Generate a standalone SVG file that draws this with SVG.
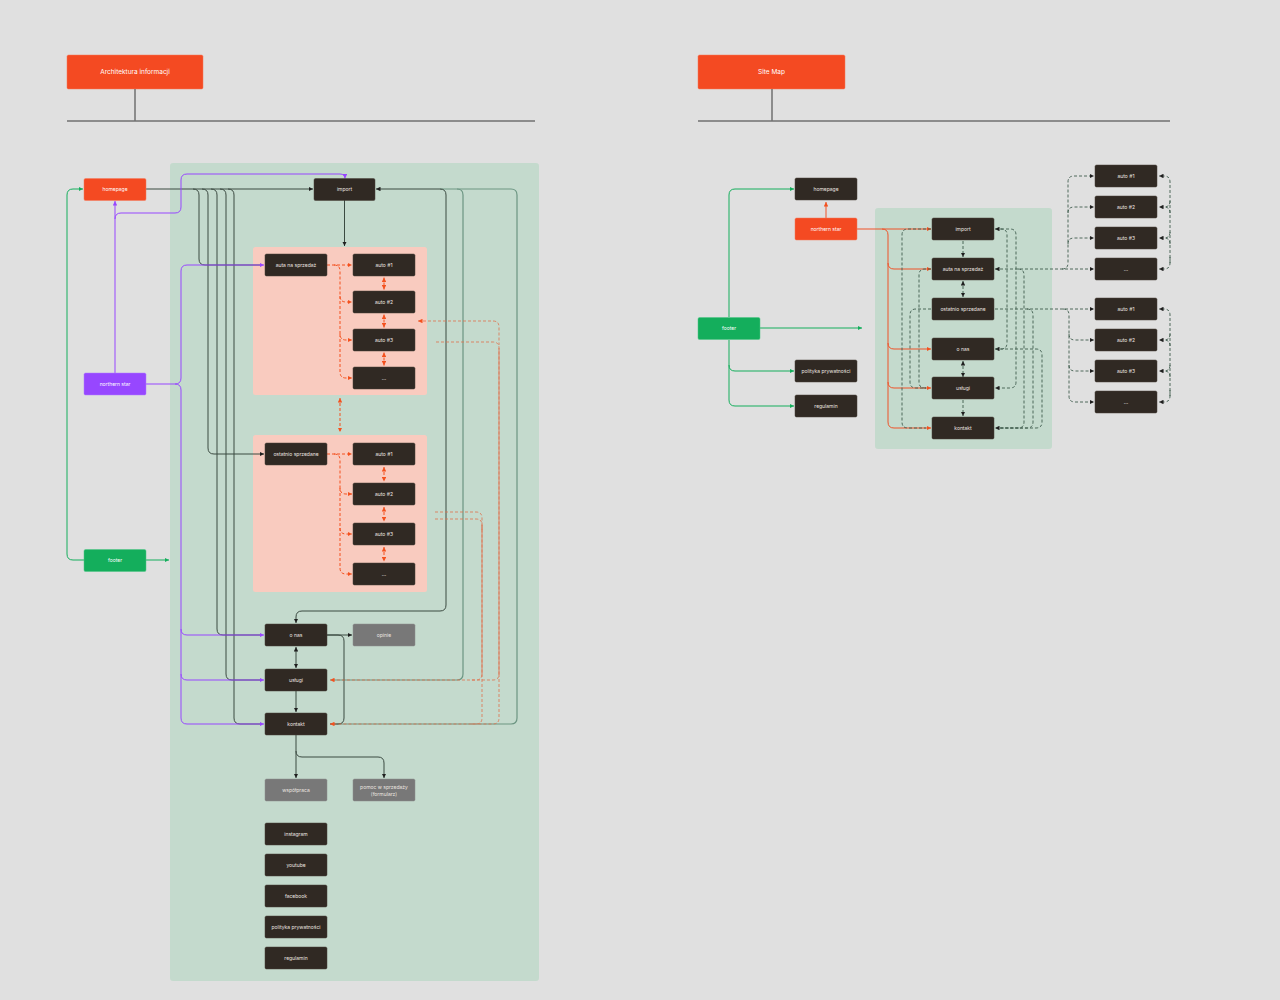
<svg xmlns="http://www.w3.org/2000/svg" width="1280" height="1000" viewBox="0 0 1280 1000">
<defs>
<style>
text{font-family:Inter,'Liberation Sans',sans-serif;font-size:5px;fill:#ece6e0;text-anchor:middle}
.hd text{font-size:6.5px;fill:#fff}
.n rect{fill:#302923;stroke:#4a423a;stroke-width:0.5}
.g rect{fill:#787878;stroke:#8c8c8c;stroke-width:0.5}
.o rect{fill:#f44a22;stroke:#f7795a;stroke-width:0.5}
.p rect{fill:#9747ff;stroke:#b07cff;stroke-width:0.5}
.gr rect{fill:#14ae5c;stroke:#4cc584;stroke-width:0.5}
.o text,.p text,.gr text{fill:#fff}
#connectors path,#header-lines path{fill:none}
.dk{stroke:#3b4a41;stroke-width:1}
.dg{stroke:#6c9582;stroke-width:1.2}
.pu{stroke:#9747ff;stroke-width:1}
.gn{stroke:#14ae5c;stroke-width:1}
.od{stroke:#f4511e;stroke-width:1;stroke-dasharray:3 2}
.ol{stroke:#e0704c;stroke-opacity:0.8;stroke-width:1;stroke-dasharray:3 2}
.ols{stroke:#e0704c;stroke-width:0.8}
.or{stroke:#ef5328;stroke-width:1}
.dd{stroke:#3e5b4d;stroke-width:0.9;stroke-dasharray:3 2}
.hl{stroke:#707070;stroke-width:1.5}
</style>
<marker id="ak" viewBox="0 0 5 5" refX="5" refY="2.5" markerWidth="4.5" markerHeight="4.5" markerUnits="userSpaceOnUse" orient="auto-start-reverse"><path d="M0,0L5,2.5L0,5z" style="fill:#1f1f1f;stroke:none"/></marker>
<marker id="ap" viewBox="0 0 5 5" refX="5" refY="2.5" markerWidth="4.5" markerHeight="4.5" markerUnits="userSpaceOnUse" orient="auto-start-reverse"><path d="M0,0L5,2.5L0,5z" style="fill:#9747ff;stroke:none"/></marker>
<marker id="ag" viewBox="0 0 5 5" refX="5" refY="2.5" markerWidth="4.5" markerHeight="4.5" markerUnits="userSpaceOnUse" orient="auto-start-reverse"><path d="M0,0L5,2.5L0,5z" style="fill:#14ae5c;stroke:none"/></marker>
<marker id="ao" viewBox="0 0 5 5" refX="5" refY="2.5" markerWidth="4.5" markerHeight="4.5" markerUnits="userSpaceOnUse" orient="auto-start-reverse"><path d="M0,0L5,2.5L0,5z" style="fill:#f4511e;stroke:none"/></marker>
</defs>
<rect x="0" y="0" width="1280" height="1000" fill="#e0e0e0"/>

<!-- headers -->
<g id="hdr-left" class="hd o">
<rect x="67" y="55" width="136" height="34" rx="1.5"/>
<text x="135" y="74.3">Architektura informacji</text>
</g>
<g id="hdr-right" class="hd o">
<rect x="698" y="55" width="147" height="34" rx="1.5"/>
<text x="771.5" y="74.3">Site Map</text>
</g>
<g id="header-lines">
<path class="hl" d="M135,89V121M67,121H535"/>
<path class="hl" d="M772,89V121M698,121H1170"/>
</g>

<!-- panels -->
<rect id="l-panel" x="170" y="163" width="369" height="818" rx="3" fill="#c4dacd"/>
<rect id="l-pink1" x="253" y="247" width="174" height="148" rx="2.5" fill="#f9cbbf"/>
<rect id="l-pink2" x="253" y="435" width="174" height="157" rx="2.5" fill="#f9cbbf"/>
<rect id="r-panel" x="875" y="208" width="177" height="241" rx="3" fill="#c4dacd"/>

<!-- connectors -->
<g id="connectors">
<!-- left: dark -->
<path class="dk" d="M146,189H313" marker-end="url(#ak)"/>
<path class="dk" d="M193,189Q199,189 199,195V259Q199,265 205,265H262"/>
<path class="dk" d="M202,189Q208,189 208,195V448Q208,454 214,454H264" marker-end="url(#ak)"/>
<path class="dk" d="M211,189Q217,189 217,195V629Q217,635 223,635H262"/>
<path class="dk" d="M220,189Q226,189 226,195V674Q226,680 232,680H262"/>
<path class="dk" d="M228,189Q234,189 234,195V718Q234,724 240,724H262"/>
<path class="dk" d="M344.5,200V246" marker-end="url(#ak)"/>
<path class="dg" d="M440,189H457Q463,189 463,195V674Q463,680 457,680H330"/>
<path class="dg" d="M457,189H511Q517,189 517,195V718Q517,724 511,724H330"/>
<path class="dk" d="M376,189H440Q446,189 446,195V605Q446,611 440,611H302Q296,611 296,617V623" marker-start="url(#ak)" marker-end="url(#ak)"/>
<path class="dk" d="M327,635H352" marker-end="url(#ak)"/>
<path class="dk" d="M327,635H338Q344,635 344,641V718Q344,724 338,724H330"/>
<path class="dk" d="M296,647V668" marker-start="url(#ak)" marker-end="url(#ak)"/>
<path class="dk" d="M296,691V712" marker-end="url(#ak)"/>
<path class="dk" d="M296,735V778" marker-end="url(#ak)"/>
<path class="dk" d="M296,751Q296,757 302,757H378Q384,757 384,763V778" marker-end="url(#ak)"/>
<!-- left: purple -->
<path class="pu" d="M115,373V201" marker-end="url(#ap)"/>
<path class="pu" d="M115,219Q115,213 121,213H175Q181,213 181,207V180Q181,174 187,174H340Q345,174 345,178.5" marker-end="url(#ap)"/>
<path class="pu" d="M146,384H175Q181,384 181,378V271Q181,265 187,265H264" marker-end="url(#ap)"/>
<path class="pu" d="M175,384Q181,384 181,390V629Q181,635 187,635H264" marker-end="url(#ap)"/>
<path class="pu" d="M181,629V674Q181,680 187,680H264" marker-end="url(#ap)"/>
<path class="pu" d="M181,674V718Q181,724 187,724H264" marker-end="url(#ap)"/>
<!-- left: green -->
<path class="gn" d="M84,560H73Q67,560 67,554V195Q67,189 73,189H83" marker-end="url(#ag)"/>
<path class="gn" d="M146,560H169" marker-end="url(#ag)"/>
<!-- left: orange dashed, auta na sprzedaz -->
<path class="od" d="M327,265H352" marker-end="url(#ao)"/>
<path class="od" d="M334,265Q340,265 340,271V296Q340,302 346,302H352" marker-end="url(#ao)"/>
<path class="od" d="M340,296V334Q340,340 346,340H352" marker-end="url(#ao)"/>
<path class="od" d="M340,334V372Q340,378 346,378H352" marker-end="url(#ao)"/>
<path class="od" d="M384,277.5V289.5" marker-start="url(#ao)" marker-end="url(#ao)"/>
<path class="od" d="M384,314.5V327.5" marker-start="url(#ao)" marker-end="url(#ao)"/>
<path class="od" d="M384,352.5V365.5" marker-start="url(#ao)" marker-end="url(#ao)"/>
<path class="od" d="M340,398V432" marker-start="url(#ao)" marker-end="url(#ao)"/>
<!-- left: orange dashed, ostatnio sprzedane -->
<path class="od" d="M327,454H352" marker-end="url(#ao)"/>
<path class="od" d="M334,454Q340,454 340,460V488Q340,494 346,494H352" marker-end="url(#ao)"/>
<path class="od" d="M340,488V528Q340,534 346,534H352" marker-end="url(#ao)"/>
<path class="od" d="M340,528V568Q340,574 346,574H352" marker-end="url(#ao)"/>
<path class="od" d="M384,467V481.5" marker-start="url(#ao)" marker-end="url(#ao)"/>
<path class="od" d="M384,507V521.5" marker-start="url(#ao)" marker-end="url(#ao)"/>
<path class="od" d="M384,547V561.5" marker-start="url(#ao)" marker-end="url(#ao)"/>
<!-- left: long orange dashed -->
<path class="ols" d="M499,348V674M482,525V674"/>
<path class="ol" d="M418,321H493Q499,321 499,327V345" marker-start="url(#ao)"/>
<path class="ol" d="M436,342H493Q499,342 499,348V674Q499,680 493,680H330" marker-end="url(#ao)"/>
<path class="ol" d="M499,674V718Q499,724 493,724H330" marker-end="url(#ao)"/>
<path class="ol" d="M435,512H476Q482,512 482,518V530"/>
<path class="ol" d="M435,519H476Q482,519 482,525V674Q482,680 476,680H470"/>
<path class="ol" d="M482,674V718Q482,724 476,724H470"/>

<!-- right: green -->
<path class="gn" d="M729,317V195Q729,189 735,189H794" marker-end="url(#ag)"/>
<path class="gn" d="M760,328H862" marker-end="url(#ag)"/>
<path class="gn" d="M729,340V365Q729,371 735,371H794" marker-end="url(#ag)"/>
<path class="gn" d="M729,365V400Q729,406 735,406H794" marker-end="url(#ag)"/>
<!-- right: orange -->
<path class="or" d="M826,218V202" marker-end="url(#ao)"/>
<path class="or" d="M857,229H931" marker-end="url(#ao)"/>
<path class="or" d="M882,229Q888,229 888,235V263Q888,269 894,269H931" marker-end="url(#ao)"/>
<path class="or" d="M888,263V343Q888,349 894,349H931" marker-end="url(#ao)"/>
<path class="or" d="M888,343V382Q888,388 894,388H931" marker-end="url(#ao)"/>
<path class="or" d="M888,382V422Q888,428 894,428H931" marker-end="url(#ao)"/>
<!-- right: dashed dark -->
<path class="dd" d="M963,241V257" marker-end="url(#ak)"/>
<path class="dd" d="M963,281V297" marker-start="url(#ak)" marker-end="url(#ak)"/>
<path class="dd" d="M963,361V377" marker-start="url(#ak)" marker-end="url(#ak)"/>
<path class="dd" d="M963,400V416" marker-end="url(#ak)"/>
<path class="dd" d="M931,229H908Q902,229 902,235V422Q902,428 908,428H926"/>
<path class="dd" d="M931,269H925Q919,269 919,275V382Q919,388 925,388H926"/>
<path class="dd" d="M931,309H916Q910,309 910,315V382Q910,388 916,388H926"/>
<path class="dd" d="M995,229H1001Q1007,229 1007,235V343Q1007,349 1001,349H995" marker-start="url(#ak)" marker-end="url(#ak)"/>
<path class="dd" d="M1001,229H1010Q1016,229 1016,235V382Q1016,388 1010,388H995" marker-end="url(#ak)"/>
<path class="dd" d="M995,269H1094" marker-start="url(#ak)" marker-end="url(#ak)"/>
<path class="dd" d="M1018,269Q1024,269 1024,275V422Q1024,428 1018,428H995" marker-end="url(#ak)"/>
<path class="dd" d="M995,309H1094" marker-end="url(#ak)"/>
<path class="dd" d="M1027,309Q1033,309 1033,315V422Q1033,428 1027,428H1000"/>
<path class="dd" d="M995,349H1036Q1042,349 1042,355V422Q1042,428 1036,428H1000"/>
<path class="dd" d="M1062,269Q1068,269 1068,263V182Q1068,176 1074,176H1094" marker-end="url(#ak)"/>
<path class="dd" d="M1068,213Q1068,207 1074,207H1094" marker-end="url(#ak)"/>
<path class="dd" d="M1068,244Q1068,238 1074,238H1094" marker-end="url(#ak)"/>
<path class="dd" d="M1063,309Q1069,309 1069,315V396Q1069,402 1075,402H1094" marker-end="url(#ak)"/>
<path class="dd" d="M1069,334Q1069,340 1075,340H1094" marker-end="url(#ak)"/>
<path class="dd" d="M1069,365Q1069,371 1075,371H1094" marker-end="url(#ak)"/>
<!-- right brackets -->
<path class="dd" d="M1170,263V182Q1170,176 1164,176H1159" marker-end="url(#ak)"/>
<path class="dd" d="M1170,257V263Q1170,269 1164,269H1159" marker-end="url(#ak)"/>
<path class="dd" d="M1170,201Q1170,207 1164,207H1159" marker-end="url(#ak)"/>
<path class="dd" d="M1170,213Q1170,207 1164,207"/>
<path class="dd" d="M1170,232Q1170,238 1164,238H1159" marker-end="url(#ak)"/>
<path class="dd" d="M1170,244Q1170,238 1164,238"/>
<path class="dd" d="M1170,396V315Q1170,309 1164,309H1159" marker-end="url(#ak)"/>
<path class="dd" d="M1170,390V396Q1170,402 1164,402H1159" marker-end="url(#ak)"/>
<path class="dd" d="M1170,334Q1170,340 1164,340H1159" marker-end="url(#ak)"/>
<path class="dd" d="M1170,346Q1170,340 1164,340"/>
<path class="dd" d="M1170,365Q1170,371 1164,371H1159" marker-end="url(#ak)"/>
<path class="dd" d="M1170,377Q1170,371 1164,371"/>
</g>

<!-- left nodes -->
<g id="l-homepage" class="o"><rect x="84" y="178.5" width="62" height="22" rx="1.5"/><text x="115" y="191.3">homepage</text></g>
<g id="l-northern-star" class="p"><rect x="84" y="373" width="62" height="22" rx="1.5"/><text x="115" y="385.8">northern star</text></g>
<g id="l-footer" class="gr"><rect x="84" y="549.5" width="62" height="22" rx="1.5"/><text x="115" y="562.3">footer</text></g>
<g id="l-import" class="n"><rect x="314" y="178.5" width="61" height="22" rx="1.5"/><text x="344.5" y="191.3">import</text></g>
<g id="l-auta" class="n"><rect x="265" y="254" width="62" height="22" rx="1.5"/><text x="296" y="266.8">auta na sprzedaż</text></g>
<g id="l-a1" class="n"><rect x="353" y="254" width="62" height="22" rx="1.5"/><text x="384" y="266.8">auto #1</text></g>
<g id="l-a2" class="n"><rect x="353" y="291" width="62" height="22" rx="1.5"/><text x="384" y="303.8">auto #2</text></g>
<g id="l-a3" class="n"><rect x="353" y="329" width="62" height="22" rx="1.5"/><text x="384" y="341.8">auto #3</text></g>
<g id="l-a4" class="n"><rect x="353" y="367" width="62" height="22" rx="1.5"/><text x="384" y="379.8">...</text></g>
<g id="l-ostatnio" class="n"><rect x="265" y="443" width="62" height="22" rx="1.5"/><text x="296" y="455.8">ostatnio sprzedane</text></g>
<g id="l-b1" class="n"><rect x="353" y="443" width="62" height="22" rx="1.5"/><text x="384" y="455.8">auto #1</text></g>
<g id="l-b2" class="n"><rect x="353" y="483" width="62" height="22" rx="1.5"/><text x="384" y="495.8">auto #2</text></g>
<g id="l-b3" class="n"><rect x="353" y="523" width="62" height="22" rx="1.5"/><text x="384" y="535.8">auto #3</text></g>
<g id="l-b4" class="n"><rect x="353" y="563" width="62" height="22" rx="1.5"/><text x="384" y="575.8">...</text></g>
<g id="l-onas" class="n"><rect x="265" y="624" width="62" height="22" rx="1.5"/><text x="296" y="636.8">o nas</text></g>
<g id="l-opinie" class="g"><rect x="353" y="624" width="62" height="22" rx="1.5"/><text x="384" y="636.8">opinie</text></g>
<g id="l-uslugi" class="n"><rect x="265" y="669" width="62" height="22" rx="1.5"/><text x="296" y="681.8">usługi</text></g>
<g id="l-kontakt" class="n"><rect x="265" y="713" width="62" height="22" rx="1.5"/><text x="296" y="725.8">kontakt</text></g>
<g id="l-wspolpraca" class="g"><rect x="265" y="779" width="62" height="22" rx="1.5"/><text x="296" y="791.8">współpraca</text></g>
<g id="l-pomoc" class="g"><rect x="353" y="779" width="62" height="22" rx="1.5"/><text x="384" y="788.5">pomoc w sprzedaży</text><text x="384" y="795.5">(formularz)</text></g>
<g id="l-instagram" class="n"><rect x="265" y="823" width="62" height="22" rx="1.5"/><text x="296" y="835.8">instagram</text></g>
<g id="l-youtube" class="n"><rect x="265" y="854" width="62" height="22" rx="1.5"/><text x="296" y="866.8">youtube</text></g>
<g id="l-facebook" class="n"><rect x="265" y="885" width="62" height="22" rx="1.5"/><text x="296" y="897.8">facebook</text></g>
<g id="l-polityka" class="n"><rect x="265" y="916" width="62" height="22" rx="1.5"/><text x="296" y="928.8">polityka prywatności</text></g>
<g id="l-regulamin" class="n"><rect x="265" y="947" width="62" height="22" rx="1.5"/><text x="296" y="959.8">regulamin</text></g>

<!-- right nodes -->
<g id="r-homepage" class="n"><rect x="795" y="178" width="62" height="22" rx="1.5"/><text x="826" y="190.8">homepage</text></g>
<g id="r-northern-star" class="o"><rect x="795" y="218" width="62" height="22" rx="1.5"/><text x="826" y="230.8">northern star</text></g>
<g id="r-footer" class="gr"><rect x="698" y="317.5" width="62" height="22" rx="1.5"/><text x="729" y="330.3">footer</text></g>
<g id="r-polityka" class="n"><rect x="795" y="360" width="62" height="22" rx="1.5"/><text x="826" y="372.8">polityka prywatności</text></g>
<g id="r-regulamin" class="n"><rect x="795" y="395" width="62" height="22" rx="1.5"/><text x="826" y="407.8">regulamin</text></g>
<g id="r-import" class="n"><rect x="932" y="218" width="62" height="22" rx="1.5"/><text x="963" y="230.8">import</text></g>
<g id="r-auta" class="n"><rect x="932" y="258" width="62" height="22" rx="1.5"/><text x="963" y="270.8">auta na sprzedaż</text></g>
<g id="r-ostatnio" class="n"><rect x="932" y="298" width="62" height="22" rx="1.5"/><text x="963" y="310.8">ostatnio sprzedane</text></g>
<g id="r-onas" class="n"><rect x="932" y="338" width="62" height="22" rx="1.5"/><text x="963" y="350.8">o nas</text></g>
<g id="r-uslugi" class="n"><rect x="932" y="377" width="62" height="22" rx="1.5"/><text x="963" y="389.8">usługi</text></g>
<g id="r-kontakt" class="n"><rect x="932" y="417" width="62" height="22" rx="1.5"/><text x="963" y="429.8">kontakt</text></g>
<g id="r-a1" class="n"><rect x="1095" y="165" width="62" height="22" rx="1.5"/><text x="1126" y="177.8">auto #1</text></g>
<g id="r-a2" class="n"><rect x="1095" y="196" width="62" height="22" rx="1.5"/><text x="1126" y="208.8">auto #2</text></g>
<g id="r-a3" class="n"><rect x="1095" y="227" width="62" height="22" rx="1.5"/><text x="1126" y="239.8">auto #3</text></g>
<g id="r-a4" class="n"><rect x="1095" y="258" width="62" height="22" rx="1.5"/><text x="1126" y="270.8">...</text></g>
<g id="r-b1" class="n"><rect x="1095" y="298" width="62" height="22" rx="1.5"/><text x="1126" y="310.8">auto #1</text></g>
<g id="r-b2" class="n"><rect x="1095" y="329" width="62" height="22" rx="1.5"/><text x="1126" y="341.8">auto #2</text></g>
<g id="r-b3" class="n"><rect x="1095" y="360" width="62" height="22" rx="1.5"/><text x="1126" y="372.8">auto #3</text></g>
<g id="r-b4" class="n"><rect x="1095" y="391" width="62" height="22" rx="1.5"/><text x="1126" y="403.8">...</text></g>
</svg>
